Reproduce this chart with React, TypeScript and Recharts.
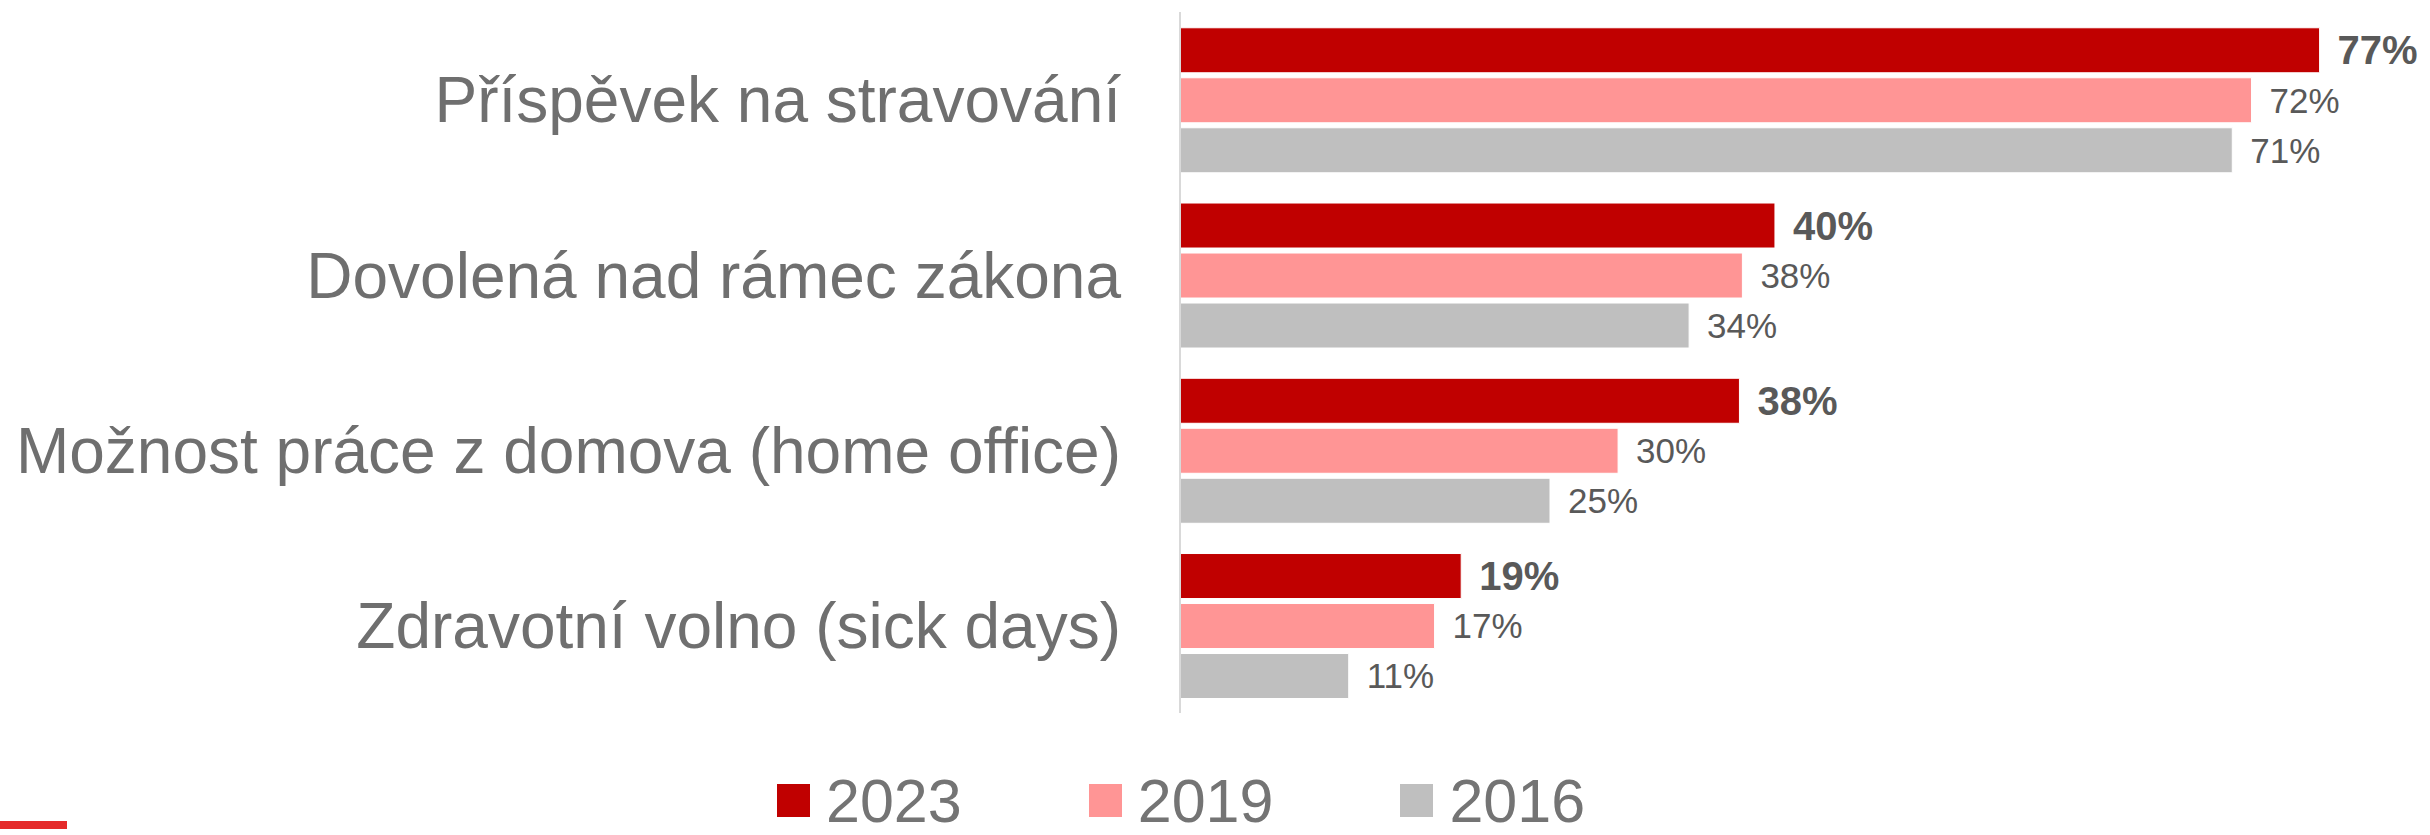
import React from 'react';
import { BarChart, Bar, XAxis, YAxis, LabelList } from 'recharts';

const categories = [
  'Příspěvek na stravování',
  'Dovolená nad rámec zákona',
  'Možnost práce z domova (home office)',
  'Zdravotní volno (sick days)',
];
const values2023 = [77, 40.2, 37.8, 19];
const values2019 = [72.4, 38, 29.6, 17.2];
const values2016 = [71.1, 34.4, 25, 11.4];
const labels2023 = ['77%', '40%', '38%', '19%'];
const labels2019 = ['72%', '38%', '30%', '17%'];
const labels2016 = ['71%', '34%', '25%', '11%'];

const series = [
  { key: 'y2023', name: '2023', color: '#C00000', bold: true },
  { key: 'y2019', name: '2019', color: '#FF9595', bold: false },
  { key: 'y2016', name: '2016', color: '#BFBFBF', bold: false },
];

const data = categories.map((name, i) => ({
  name,
  y2023: values2023[i],
  y2019: values2019[i],
  y2016: values2016[i],
  l2023: labels2023[i],
  l2019: labels2019[i],
  l2016: labels2016[i],
}));

const FONT = '"Liberation Sans", Arial, sans-serif';

export default function App() {
  return (
    <div style={{ position: 'absolute', left: 0, top: 0, width: 2430, height: 835, background: '#fff', overflow: 'hidden', fontFamily: FONT }}>
      <BarChart
        width={2430}
        height={835}
        data={data}
        layout="vertical"
        margin={{ top: 12, right: 66, bottom: 122, left: 0 }}
        barCategoryGap="9%"
        barGap={5}
      >
        <XAxis type="number" domain={[0, 80]} hide />
        <YAxis
          type="category"
          dataKey="name"
          width={1180}
          axisLine={{ stroke: '#D9D9D9', strokeWidth: 2 }}
          tickLine={false}
          tickSize={0}
          tickMargin={59}
          tick={{ fill: '#6F6F6F', fontSize: 64, fontFamily: FONT }}
        />
        {series.map((s) => (
          <Bar key={s.key} dataKey={s.key} fill={s.color} stroke="#fff" strokeWidth={1} isAnimationActive={false}>
            <LabelList
              dataKey={'l' + s.name}
              position="right"
              offset={18}
              style={{
                fill: '#595959',
                fontSize: s.bold ? 40 : 35,
                fontWeight: s.bold ? 700 : 400,
                fontFamily: FONT,
              }}
            />
          </Bar>
        ))}
      </BarChart>

      {/* legend, nudged up a little so the digits are not clipped by the bottom edge */}
      <div style={{ position: 'absolute', left: 777, top: 779, display: 'flex', alignItems: 'flex-start', gap: 127 }}>
        {series.map((s) => (
          <div key={s.key} style={{ display: 'flex', alignItems: 'flex-start' }}>
            <div style={{ width: 33, height: 33, background: s.color, marginTop: 5, marginRight: 16 }} />
            <span style={{ display: 'block', fontSize: 61, lineHeight: '44px', color: '#747474' }}>{s.name}</span>
          </div>
        ))}
      </div>

      <div style={{ position: 'absolute', left: 0, top: 821, width: 67, height: 8, background: '#E52A2A' }} />
    </div>
  );
}
